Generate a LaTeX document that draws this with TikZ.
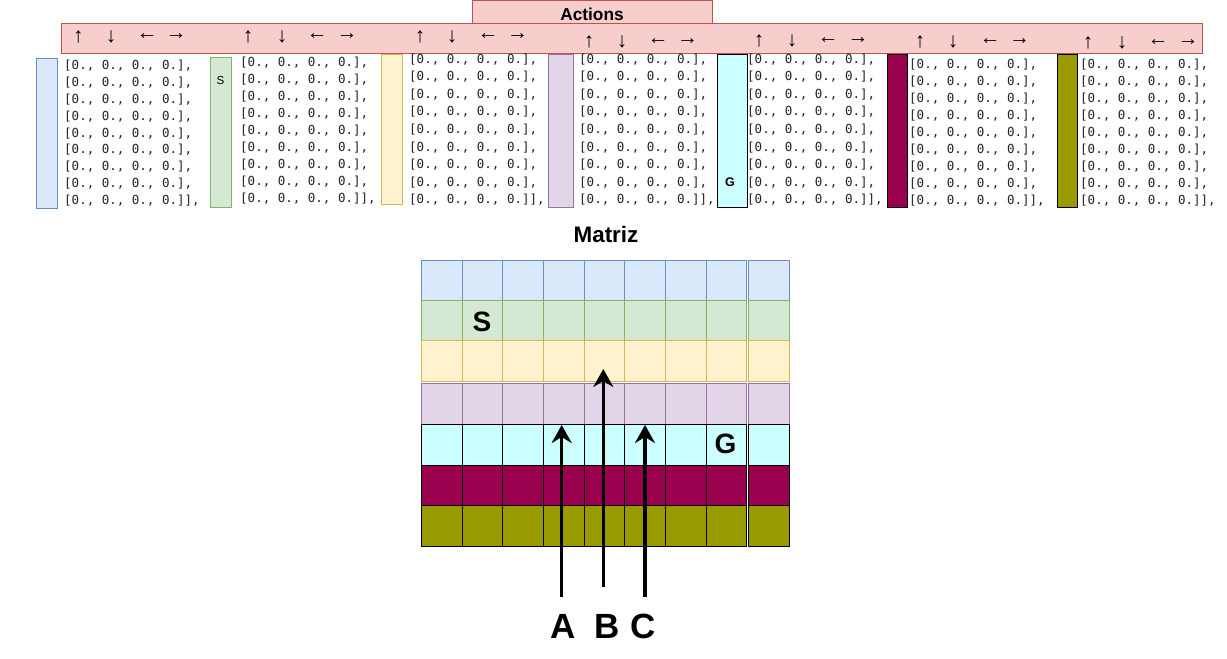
\documentclass[tikz,border=0pt]{standalone}
\usepackage{fontspec}
\setmainfont{Liberation Sans}
\newfontfamily\monof{DejaVu Sans Mono}
\usetikzlibrary{arrows.meta}
\definecolor{bluef}{HTML}{DAE8FC}\definecolor{blued}{HTML}{6C8EBF}
\definecolor{greenf}{HTML}{D5E8D4}\definecolor{greend}{HTML}{82B366}
\definecolor{yellowf}{HTML}{FFF2CC}\definecolor{yellowd}{HTML}{D6B656}
\definecolor{purplef}{HTML}{E1D5E7}\definecolor{purpled}{HTML}{9673A6}
\definecolor{cyanf}{HTML}{CCFFFF}
\definecolor{maroonf}{HTML}{99004D}
\definecolor{olivef}{HTML}{999900}
\definecolor{redf}{HTML}{F8CECC}\definecolor{redd}{HTML}{B85450}
\definecolor{monotext}{HTML}{222222}
\begin{document}
\begin{tikzpicture}[x=1pt,y=-1pt,
  box/.style={anchor=north west, inner sep=0, outer sep=0, line width=1pt},
  mono/.style={anchor=base west, inner sep=0, text=monotext, font=\monof\fontsize{12.5}{15}\selectfont},
  arr/.style={inner sep=0, font=\bfseries\fontsize{21}{24}\selectfont},
  big/.style={anchor=base, inner sep=0, font=\bfseries\fontsize{28}{30}\selectfont},
  abc/.style={anchor=base, inner sep=0, font=\bfseries\fontsize{35}{38}\selectfont},
  pointer/.style={line width=3.3pt, -{Stealth[length=18pt,width=20pt,inset=6pt]}}
]
\useasboundingbox (0,0) rectangle (1227,659);

% Actions header and bar
\node[box, draw=redd, fill=redf, minimum width=240pt, minimum height=23pt] (acttitle) at (472,0) {};
\node[anchor=base, inner sep=0, font=\bfseries\fontsize{17.3}{20}\selectfont] (actlabel) at (592,20.7) {Actions};
\node[box, draw=redd, fill=redf, minimum width=1141pt, minimum height=30pt] (actbar) at (61,23.3) {};

\foreach \k/\a/\b/\c/\e/\yy in {1/78.3/111/147/176/37, 2/248/282/317/347/37, 3/420/452/488/517.5/37,
  4/589/622/658/687.5/42, 5/759/792/828/858/41, 6/920/953/990/1019.5/42, 7/1088/1122/1158/1188/43}{
  \node[arr] (up\k) at (\a,\yy) {↑};
  \node[arr] (dn\k) at (\b,\yy) {↓};
  \node[arr] (lf\k) at (\c,\yy) {←};
  \node[arr] (rt\k) at (\e,\yy) {→};
}

% colour bars
\node[box, draw=blued, fill=bluef, minimum width=21pt, minimum height=150pt] (bar1) at (36,58) {};
\node[box, draw=greend, fill=greenf, minimum width=21pt, minimum height=150pt] (bar2) at (210,57) {};
\node[box, draw=yellowd, fill=yellowf, minimum width=21pt, minimum height=150pt] (bar3) at (381,54) {};
\node[box, draw=purpled, fill=purplef, minimum width=25pt, minimum height=153pt] (bar4) at (548,54) {};
\node[box, draw=black, fill=cyanf, minimum width=30pt, minimum height=153pt] (bar5) at (717,54) {};
\node[box, draw=black, fill=maroonf, minimum width=20pt, minimum height=153pt] (bar6) at (887,54) {};
\node[box, draw=black, fill=olivef, minimum width=20pt, minimum height=153pt] (bar7) at (1057,54) {};
\node[anchor=base, inner sep=0, font=\fontsize{11.6}{13}\selectfont] (barS) at (220.5,84.5) {S};
\node[anchor=base, inner sep=0, font=\bfseries\fontsize{12.5}{14}\selectfont] (barG) at (730,186.5) {G};

% text blocks
\foreach \k/\x/\y/\d in {1/64/65/16.875, 2/240/61.7/17.08, 3/409/58.8/17.55, 4/579/58.8/17.55,
  5/747/58.8/17.55, 6/909/64.3/16.96, 7/1080/64.3/16.96}{
  \foreach \i in {0,...,7}{
    \node[mono] (t\k-\i) at (\x,{\y+4.5+\i*\d}) {[0., 0., 0., 0.],};
  }
  \node[mono] (t\k-8) at (\x,{\y+4.5+8*\d}) {[0., 0., 0., 0.]],};
}

% Matrix
\node[anchor=base, inner sep=0, font=\bfseries\fontsize{22.4}{25}\selectfont] (mtitle) at (606,242.7) {Matriz};
\foreach \r/\ty/\h/\f/\s in {1/260.5/39.8/bluef/blued, 2/300.3/40.5/greenf/greend, 3/340.8/40.7/yellowf/yellowd,
  4/383.3/40.7/purplef/purpled, 5/424/41/cyanf/black, 6/465/40.7/maroonf/black, 7/505.7/40.3/olivef/black}{
  \foreach \c in {0,...,7}{
    \node[box, draw=\s, fill=\f, minimum width=40.65pt, minimum height=\h pt] (m\r-\c) at ({421.5+40.65*\c},\ty) {};
  }
  \node[box, draw=\s, fill=\f, minimum width=40.7pt, minimum height=\h pt] (m\r-8) at (748.3,\ty) {};
}
\node[big] (mS) at (482,331.7) {S};
\node[big] (mG) at (725.5,453) {G};

% pointers
\coordinate (Atail) at (561.7,597);
\coordinate (Atip) at (561.7,425);
\coordinate (Btail) at (603.3,587);
\coordinate (Btip) at (603.3,369);
\coordinate (Ctail) at (645,597);
\coordinate (Ctip) at (645,425);
\draw[pointer] (Atail) -- (Atip);
\draw[pointer] (Btail) -- (Btip);
\draw[pointer] (Ctail) -- (Ctip);
\node[abc] (labA) at (563,638) {A};
\node[abc] (labB) at (606.7,638) {B};
\node[abc] (labC) at (642.7,638) {C};
\end{tikzpicture}
\end{document}
